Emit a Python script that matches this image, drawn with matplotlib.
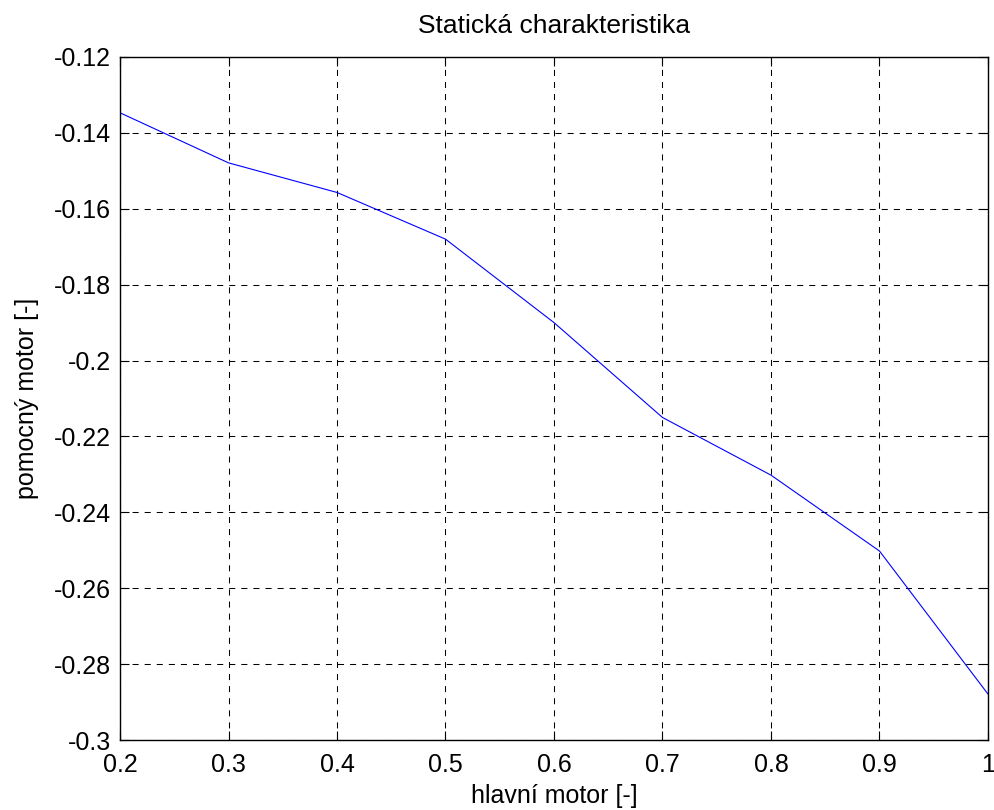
import matplotlib
matplotlib.use('Agg')
import matplotlib.pyplot as plt

# hlavni motor vs. pomocny motor
hlavni = [0.2, 0.3, 0.4, 0.5, 0.6, 0.7, 0.8, 0.9, 1.0]
pomocny = [-0.1347, -0.1479, -0.1557, -0.168, -0.19, -0.215, -0.2302, -0.2502, -0.2879]

xticks = [0.2, 0.3, 0.4, 0.5, 0.6, 0.7, 0.8, 0.9, 1.0]
xlabels = ['0.2', '0.3', '0.4', '0.5', '0.6', '0.7', '0.8', '0.9', '1']
yticks = [-0.12, -0.14, -0.16, -0.18, -0.2, -0.22, -0.24, -0.26, -0.28, -0.3]
ylabels = ['-0.12', '-0.14', '-0.16', '-0.18', '-0.2', '-0.22', '-0.24', '-0.26', '-0.28', '-0.3']

plt.rcParams['font.family'] = ['Liberation Sans', 'DejaVu Sans']

fig = plt.figure(figsize=(9.95, 8.1), dpi=100)
ax = fig.add_axes([120/995, 1 - 740/810, 868/995, 683/810])
ax.plot(hlavni, pomocny, color='blue', linewidth=0.8)
ax.set_xlim(0.2, 1.0)
ax.set_ylim(-0.3, -0.12)
ax.set_xticks(xticks)
ax.set_xticklabels(xlabels)
ax.set_yticks(yticks)
ax.set_yticklabels(ylabels)
ax.tick_params(direction='in', labelsize=18, length=6.2, width=0.8,
               top=True, right=True)
ax.tick_params(axis='x', pad=9)
ax.tick_params(axis='y', pad=6.5)
ax.grid(True, color='black', linestyle=(0, (5.8, 5.8)), linewidth=0.75)
for s in ax.spines.values():
    s.set_linewidth(1.0)
ax.set_title('Statická charakteristika', fontsize=19, pad=17)
ax.set_xlabel('hlavní motor [-]', fontsize=18, labelpad=5.5)
ax.set_ylabel('pomocný motor [-]', fontsize=18, labelpad=11)

fig.savefig('out.png', dpi=100)
